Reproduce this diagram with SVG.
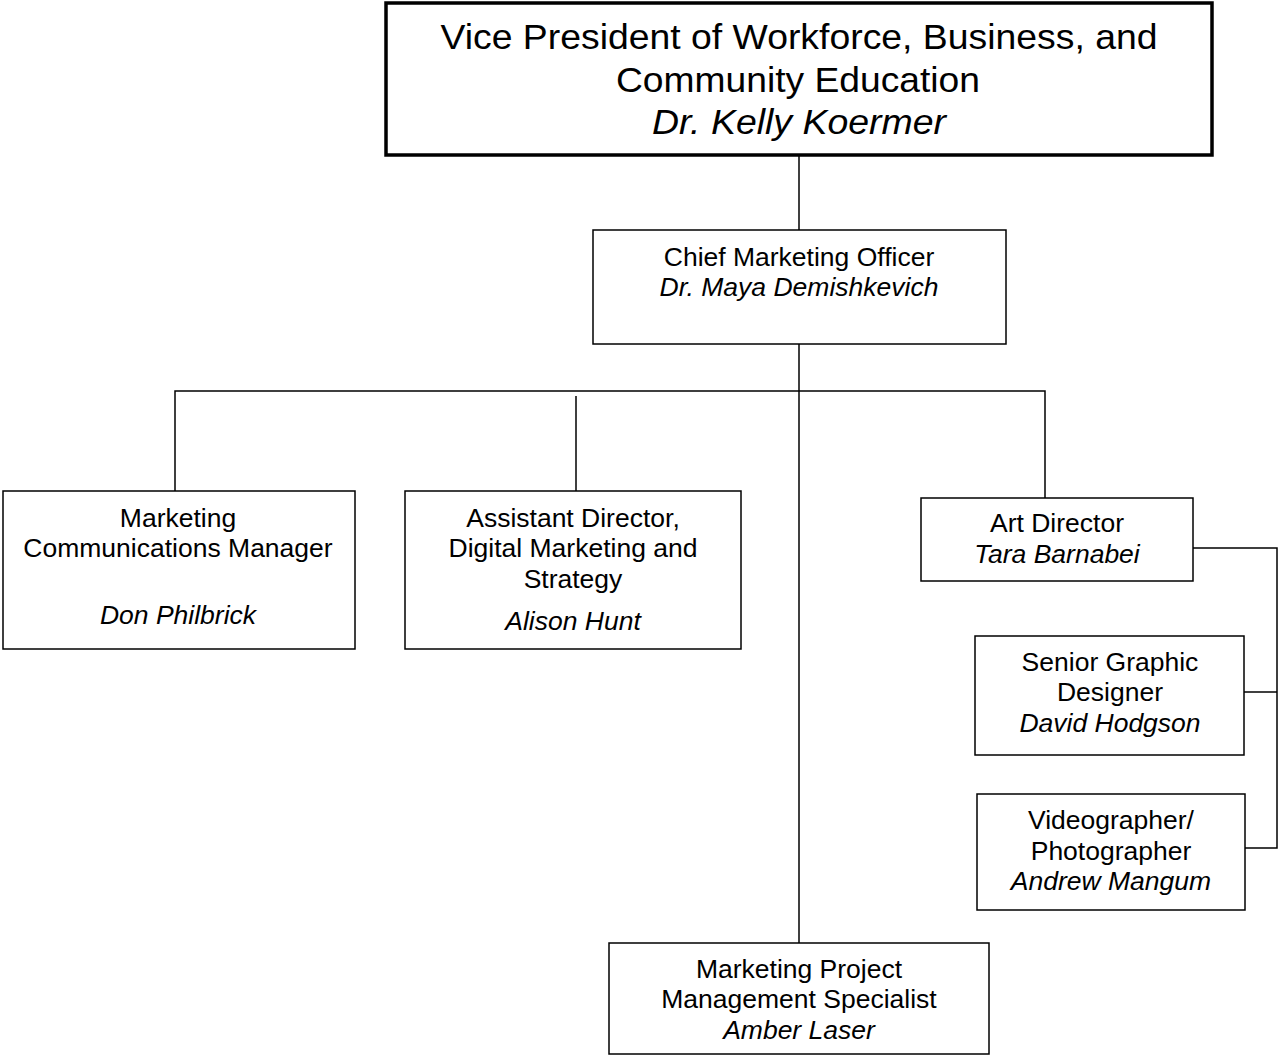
<svg xmlns="http://www.w3.org/2000/svg" width="1278" height="1056" viewBox="0 0 1278 1056">
<style>
.box{fill:#fff;stroke:#000;stroke-width:1.5}
.top{fill:#fff;stroke:#000;stroke-width:3.5}
text{font-family:"Liberation Sans",Arial,sans-serif;font-size:26.5px;fill:#000;text-anchor:middle}
.n{font-style:italic}
.big{font-size:35px}
.conn line,.conn polyline{stroke:#000;stroke-width:1.5;fill:none}
</style>
<rect width="1278" height="1056" fill="#fff"/>
<g class="conn" id="connectors">
<line x1="799" y1="155" x2="799" y2="230"/>
<line x1="799" y1="344" x2="799" y2="943"/>
<polyline points="175,491 175,391 1045,391 1045,498"/>
<line x1="576" y1="396" x2="576" y2="491"/>
<polyline points="1193,548 1277,548 1277,848 1245,848"/>
<line x1="1244" y1="692" x2="1277" y2="692"/>
</g>
<g id="vp">
<rect class="top" x="386" y="3" width="826" height="152"/>
<text class="big" x="799" y="49" textLength="717" lengthAdjust="spacingAndGlyphs">Vice President of Workforce, Business, and</text>
<text class="big" x="798" y="92" textLength="364" lengthAdjust="spacingAndGlyphs">Community Education</text>
<text class="big n" x="799" y="134" textLength="294" lengthAdjust="spacingAndGlyphs">Dr. Kelly Koermer</text>
</g>
<g id="cmo">
<rect class="box" x="593" y="230" width="413" height="114"/>
<text x="799" y="266">Chief Marketing Officer</text>
<text class="n" x="799" y="296">Dr. Maya Demishkevich</text>
</g>
<g id="mcm">
<rect class="box" x="3" y="491" width="352" height="158"/>
<text x="178" y="527">Marketing</text>
<text x="178" y="557">Communications Manager</text>
<text class="n" x="178" y="624">Don Philbrick</text>
</g>
<g id="ad">
<rect class="box" x="405" y="491" width="336" height="158"/>
<text x="573" y="527">Assistant Director,</text>
<text x="573" y="557">Digital Marketing and</text>
<text x="573" y="588">Strategy</text>
<text class="n" x="573" y="630">Alison Hunt</text>
</g>
<g id="art">
<rect class="box" x="921" y="498" width="272" height="83"/>
<text x="1057" y="532">Art Director</text>
<text class="n" x="1057" y="563">Tara Barnabei</text>
</g>
<g id="sgd">
<rect class="box" x="975" y="636" width="269" height="119"/>
<text x="1110" y="671">Senior Graphic</text>
<text x="1110" y="701">Designer</text>
<text class="n" x="1110" y="732">David Hodgson</text>
</g>
<g id="video">
<rect class="box" x="977" y="794" width="268" height="116"/>
<text x="1111" y="829">Videographer/</text>
<text x="1111" y="860">Photographer</text>
<text class="n" x="1111" y="890">Andrew Mangum</text>
</g>
<g id="mpm">
<rect class="box" x="609" y="943" width="380" height="111"/>
<text x="799" y="978">Marketing Project</text>
<text x="799" y="1008">Management Specialist</text>
<text class="n" x="799" y="1039">Amber Laser</text>
</g>
</svg>
